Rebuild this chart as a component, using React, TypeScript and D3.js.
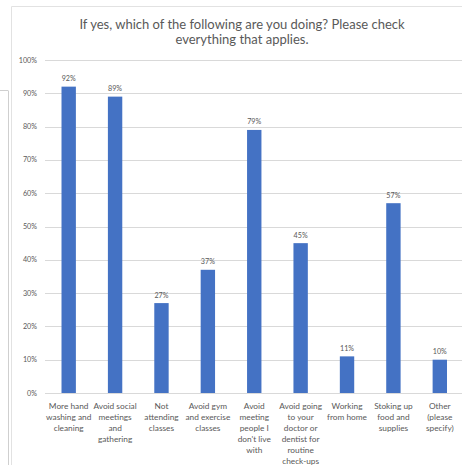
import React from "react";
import * as d3 from "d3";

const titleLines = ["If yes, which of the following are you doing? Please check", "everything that applies."];
const categories: string[][] = [
  ["More hand", "washing and", "cleaning"],
  ["Avoid social", "meetings", "and", "gathering"],
  ["Not", "attending", "classes"],
  ["Avoid gym", "and exercise", "classes"],
  ["Avoid", "meeting", "people I", "don't live", "with"],
  ["Avoid going", "to your", "doctor or", "dentist for", "routine", "check-ups"],
  ["Working", "from home"],
  ["Stoking up", "food and", "supplies"],
  ["Other", "(please", "specify)"],
];
const values = [0.92, 0.89, 0.27, 0.37, 0.79, 0.45, 0.11, 0.57, 0.1];
const yTicks = [0, 0.1, 0.2, 0.3, 0.4, 0.5, 0.6, 0.7, 0.8, 0.9, 1.0];

const W = 462;
const H = 465;
const FONT = "Lato, 'Open Sans', sans-serif";
const TEXT = "#595959";

export default function App() {
  const x = d3
    .scaleBand<number>()
    .domain(d3.range(categories.length))
    .range([45.5, 463])
    .paddingInner(0.69)
    .paddingOuter(0.345);
  const y = d3.scaleLinear().domain([0, 1]).range([393, 60]);
  const pct = d3.format(".0%");

  return (
    <svg
      width={W}
      height={H}
      style={{ position: "absolute", left: 0, top: 0, background: "#fff" }}
      fontFamily={FONT}
    >
      <rect x={0} y={0} width={W} height={H} fill="#fff" />
      <line x1={0} x2={8} y1={90.5} y2={90.5} stroke="#cfcfcf" />
      <line x1={8.5} x2={8.5} y1={90.5} y2={H} stroke="#cfcfcf" />
      <line x1={11.5} x2={11.5} y1={6.5} y2={H} stroke="#e2e2e2" />
      <line x1={11.5} x2={W} y1={6.5} y2={6.5} stroke="#e2e2e2" />

      {titleLines.map((t, i) => (
        <text
          key={i}
          x={242}
          y={29 + i * 15}
          textAnchor="middle"
          fontSize={13}
          fill={TEXT}
        >
          {t}
        </text>
      ))}

      {yTicks.map((t) => (
        <g key={t}>
          <line x1={45} x2={W} y1={Math.round(y(t)) + 0.5} y2={Math.round(y(t)) + 0.5} stroke="#d9d9d9" />
          <text x={37} y={y(t) + 2.5} textAnchor="end" fontSize={7.2} fill={TEXT}>
            {pct(t)}
          </text>
        </g>
      ))}

      {values.map((v, i) => (
        <g key={i}>
          <rect x={x(i)} y={y(v)} width={x.bandwidth()} height={y(0) - y(v)} fill="#4472c4" />
          <text
            x={(x(i) as number) + x.bandwidth() / 2}
            y={y(v) - 5.5}
            textAnchor="middle"
            fontSize={7.2}
            fill={TEXT}
          >
            {pct(v)}
          </text>
        </g>
      ))}

      {categories.map((lines, i) => (
        <text
          key={i}
          x={(x(i) as number) + x.bandwidth() / 2}
          textAnchor="middle"
          fontSize={8.3}
          fill={TEXT}
        >
          {lines.map((l, j) => (
            <tspan key={j} x={(x(i) as number) + x.bandwidth() / 2} y={408.5 + j * 11}>
              {l}
            </tspan>
          ))}
        </text>
      ))}
    </svg>
  );
}
